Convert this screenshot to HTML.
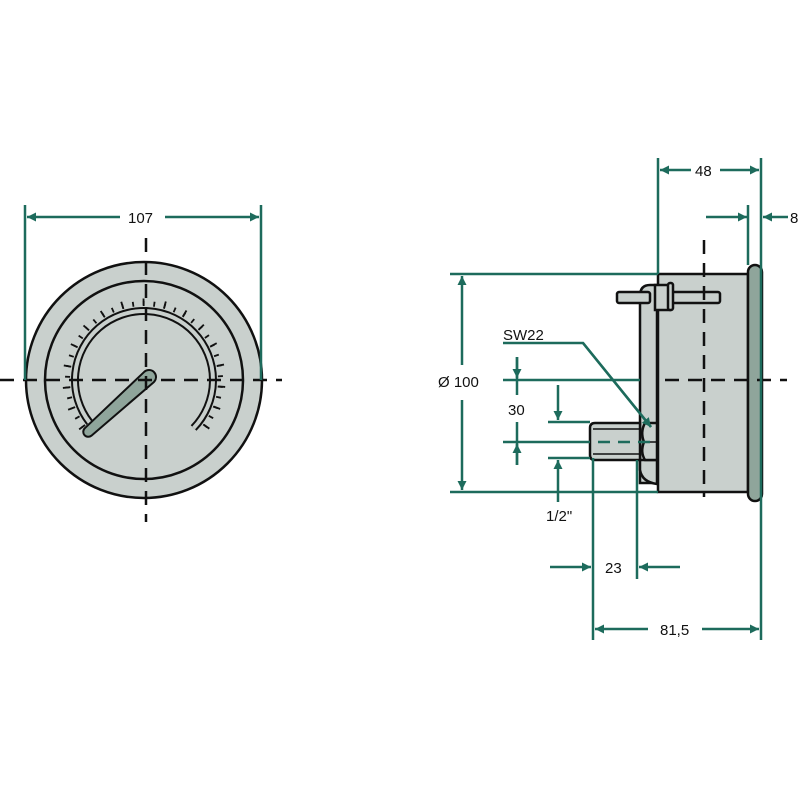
<!DOCTYPE html>
<html><head><style>body{margin:0;background:#fff}svg{display:block}text{font-family:"Liberation Sans",sans-serif;font-size:15px;fill:#111}</style></head><body>
<svg width="800" height="800" viewBox="0 0 800 800" xmlns="http://www.w3.org/2000/svg">
<defs>
<marker id="a" viewBox="0 0 10 10" refX="10" refY="5" markerWidth="14" markerHeight="9" markerUnits="userSpaceOnUse" orient="auto"><path d="M0,0L10,5L0,10z" fill="#1d6b5c"/></marker>
</defs>
<g stroke="#111" stroke-width="2.5" fill="#c9d0cd">
<circle cx="144" cy="380" r="118"/>
<circle cx="144" cy="380" r="99"/>
</g>
<g fill="none">
<path d="M89.6,422.5 A69,69 0 1 1 193.6,428" stroke-width="8" stroke="#111"/>
<path d="M89.6,422.5 A69,69 0 1 1 193.6,428" stroke-width="4" stroke="#c9d0cd"/>
<path d="M83.7,427.1 A76.5,76.5 0 1 1 199,433.2" stroke="#111" stroke-width="5" stroke-dasharray="1.8 8.8"/>
<path d="M82.5,428 A78,78 0 1 1 200.1,434.2" stroke="#111" stroke-width="7" stroke-dasharray="1.8 19.8"/>
</g>
<path d="M144.3,371.8 A7,7 0 0 1 153.7,382.2 L91.4,435.7 A5,5 0 0 1 84.7,428.3 Z" fill="#8fa59b" stroke="#111" stroke-width="2"/>
<g stroke="#111" stroke-width="2.5" stroke-dasharray="14,9">
<line x1="0" y1="380" x2="282" y2="380"/>
<line x1="146" y1="238" x2="146" y2="522"/>
</g>
<g stroke="#111" stroke-width="2.5">
<path d="M640,483 L640,296 Q640,285 650,285 L657,285 L657,483 Z" fill="#c9d0cd"/>
<path d="M640,460 L640,470 Q642,482 657,484 L657,460Z" fill="#c9d0cd"/>
<rect x="658" y="274" width="90" height="218" fill="#c9d0cd"/>
<rect x="748" y="265" width="14" height="236" rx="7" fill="#8fa59b"/>
<rect x="617" y="292" width="33" height="11" rx="2" fill="#c9d0cd"/>
<rect x="672" y="292" width="48" height="11" rx="2" fill="#c9d0cd"/>
<rect x="655" y="285" width="15" height="25" fill="#c9d0cd"/>
<rect x="668" y="283" width="5" height="27" rx="2" fill="#c9d0cd"/>
<path d="M595,423 L640,423 L640,460 L595,460 Q590,460 590,455 L590,428 Q590,423 595,423Z" fill="#c9d0cd"/>
<line x1="593" y1="429" x2="640" y2="429" stroke-width="1.5"/>
<line x1="593" y1="454" x2="640" y2="454" stroke-width="1.5"/>
<path d="M645,423 L657,423 L657,460 L645,460 Q640,452 644,442 Q640,432 645,423Z" fill="#c9d0cd"/>
<line x1="644" y1="442" x2="657" y2="442" stroke-width="1.5"/>
</g>
<g stroke="#111" stroke-width="2.5" stroke-dasharray="14,9">
<line x1="704" y1="240" x2="704" y2="497"/>
<line x1="665" y1="380" x2="787" y2="380"/>
</g>
<g stroke="#1d6b5c" stroke-width="2.5" fill="none">
<line x1="25" y1="205" x2="25" y2="380"/><line x1="261" y1="205" x2="261" y2="380"/>
<line x1="120" y1="217" x2="27" y2="217" marker-end="url(#a)"/><line x1="165" y1="217" x2="259" y2="217" marker-end="url(#a)"/>
<line x1="658" y1="158" x2="658" y2="274"/><line x1="761" y1="158" x2="761" y2="640"/>
<line x1="691" y1="170" x2="660" y2="170" marker-end="url(#a)"/><line x1="720" y1="170" x2="759" y2="170" marker-end="url(#a)"/>
<line x1="748" y1="205" x2="748" y2="265"/>
<line x1="706" y1="217" x2="747" y2="217" marker-end="url(#a)"/><line x1="788" y1="217" x2="763" y2="217" marker-end="url(#a)"/>
<line x1="450" y1="274" x2="658" y2="274"/><line x1="450" y1="492" x2="658" y2="492"/>
<line x1="462" y1="365" x2="462" y2="276" marker-end="url(#a)"/><line x1="462" y1="400" x2="462" y2="490" marker-end="url(#a)"/>
<polyline points="503,343 583,343 651,427"/>
<line x1="583" y1="343" x2="651" y2="427" marker-end="url(#a)"/>
<line x1="503" y1="380" x2="640" y2="380"/><line x1="503" y1="442" x2="590" y2="442"/>
<line x1="517" y1="357" x2="517" y2="378" marker-end="url(#a)"/><line x1="517" y1="465" x2="517" y2="444" marker-end="url(#a)"/>
<line x1="517" y1="357" x2="517" y2="395"/><line x1="517" y1="422" x2="517" y2="465"/>
<line x1="548" y1="422" x2="590" y2="422"/><line x1="548" y1="458" x2="590" y2="458"/>
<line x1="558" y1="385" x2="558" y2="420" marker-end="url(#a)"/><line x1="558" y1="502" x2="558" y2="460" marker-end="url(#a)"/>
<line x1="593" y1="458" x2="593" y2="640"/><line x1="637" y1="460" x2="637" y2="579"/>
<line x1="550" y1="567" x2="591" y2="567" marker-end="url(#a)"/><line x1="680" y1="567" x2="639" y2="567" marker-end="url(#a)"/>
<line x1="648" y1="629" x2="595" y2="629" marker-end="url(#a)"/><line x1="702" y1="629" x2="759" y2="629" marker-end="url(#a)"/>
</g>
<g stroke="#1d6b5c" stroke-width="2.5" stroke-dasharray="12,8"><line x1="598" y1="442" x2="657" y2="442"/></g>
<text x="128" y="223">107</text>
<text x="695" y="176">48</text>
<text x="790" y="223">8</text>
<text x="438" y="387">Ø 100</text>
<text x="503" y="340">SW22</text>
<text x="508" y="415">30</text>
<text x="546" y="521">1/2"</text>
<text x="605" y="573">23</text>
<text x="660" y="635">81,5</text>
</svg>
</body></html>
